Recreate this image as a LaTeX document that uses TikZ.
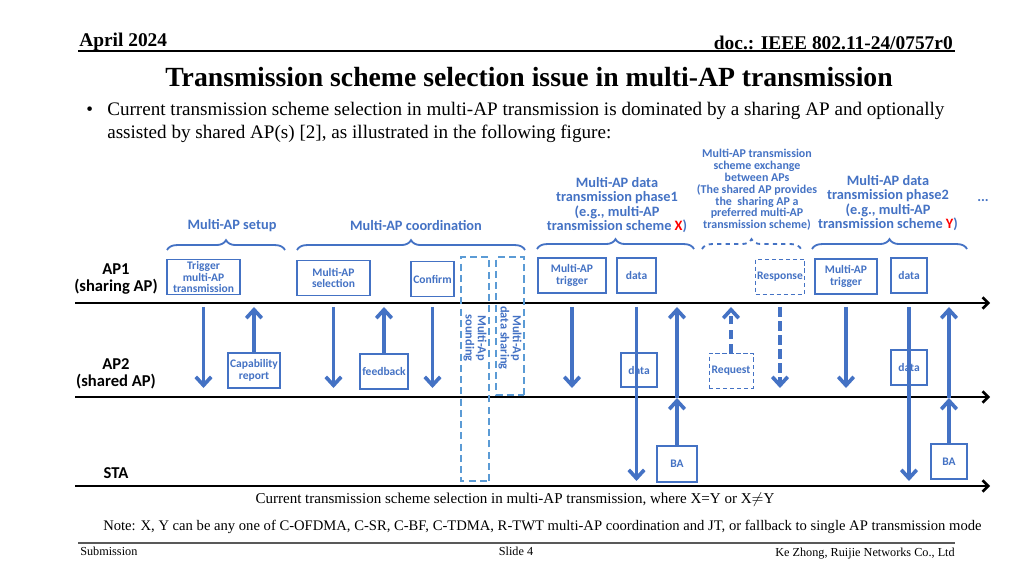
\documentclass[tikz,border=0pt]{standalone}
\usepackage{fontspec}
\setmainfont{Liberation Serif}
\newfontfamily\diagfont{Carlito}
\usepackage{tikz}
\usetikzlibrary{arrows.meta,decorations.pathreplacing,positioning}
\definecolor{apblue}{RGB}{68,114,196}
\definecolor{dashblue}{RGB}{91,155,213}

\begin{document}
\begin{tikzpicture}[x=0.025cm,y=-0.025cm]
		\tikzstyle{every node}=[inner sep=0pt]
		
		\tikzstyle{msgbox}=[draw=apblue,line width=0.9pt,fill=white,text=apblue,
		font=\diagfont\bfseries\fontsize{8.2}{8.4}\selectfont,align=center,
		minimum height=0.875cm]
		\tikzstyle{optbox}=[msgbox,line width=0.6pt,densely dashed]
		\tikzstyle{phasebox}=[draw=dashblue,line width=0.8pt,dash pattern=on 5pt off 3pt,
		minimum height=0.7cm,rotate=-90]
		\tikzstyle{phasetext}=[text=apblue,font=\diagfont\bfseries\fontsize{8.8}{8.6}\selectfont,
		align=center,rotate=-90]
		\tikzstyle{msg}=[apblue,line width=2.6pt,-{Straight Barb[length=6pt,width=11pt]}]
		\tikzstyle{timeline}=[line width=1.8pt,-{Straight Barb[length=4pt,width=8pt]}]
		\tikzstyle{grp}=[apblue,line width=1.3pt,decorate,decoration={brace,amplitude=7pt}]
		\tikzstyle{grplabel}=[text=apblue,font=\diagfont\bfseries\fontsize{10.2}{10.4}\selectfont,align=center]
		\tikzstyle{smalllabel}=[text=apblue,font=\diagfont\bfseries\fontsize{8.5}{8.4}\selectfont,align=center]
		\tikzstyle{rowlabel}=[font=\diagfont\bfseries\fontsize{11.8}{12}\selectfont,align=center]
		
		\useasboundingbox (0,0) rectangle (1024,576);
		
		%% Slide header and text
		\node[anchor=base west,font=\bfseries\fontsize{13.8}{16}\selectfont] (date) at (79,47) {April 2024};
		\node[anchor=base east,font=\bfseries\fontsize{13.8}{16}\selectfont] (doc) at (953,50) {doc.: IEEE 802.11-24/0757r0};
		\coordinate (hl) at (78,51);
		\coordinate (hr) at (955,51);
		\draw[line width=0.8pt] (hl) -- (hr);
		\node[font=\bfseries\fontsize{19.7}{22}\selectfont] (title) at (529,77) {Transmission scheme selection issue in multi-AP transmission};
		\node[anchor=base west,font=\fontsize{13.6}{15}\selectfont] (bul) at (86,116) {\textbullet};
		\node[anchor=base west,font=\fontsize{13.6}{15}\selectfont] (intro1) at (107,116) {Current transmission scheme selection in multi-AP transmission is dominated by a sharing AP and optionally};
		\node[anchor=base west,font=\fontsize{13.6}{15}\selectfont] (intro2) at (107,139) {assisted by shared AP(s) [2], as illustrated in the following figure:};
		
		%% Time lines
		\coordinate (ap1s) at (75,303);
		\coordinate (ap1e) at (990,303);
		\coordinate (ap2s) at (75,397);
		\coordinate (ap2e) at (990,397);
		\coordinate (stas) at (75,486);
		\coordinate (stae) at (990,486);
		\draw[timeline] (ap1s) -- (ap1e);
		\draw[timeline] (ap2s) -- (ap2e);
		\draw[timeline] (stas) -- (stae);
		
		\node[rowlabel] (ap1) at (116,279) {AP1\\(sharing AP)};
		\node[rowlabel] (ap2) at (116,374) {AP2\\(shared AP)};
		\node[rowlabel] (sta) at (116,473) {STA};
		
		%% Phases
		\node[grplabel] (setup) at (232,226) {Multi-AP setup};
		\draw[grp] (167,250) -- (285,250);
		\node[grplabel] (coord) at (416,226) {Multi-AP coordination};
		\draw[grp] (297,250) -- (525,250);
		\node[grplabel] (ph1) at (617,205) {Multi-AP data\\transmission phase1\\(e.g., multi-AP\\transmission scheme \textcolor{red}{X})};
		\draw[grp] (537,249) -- (694,249);
		\node[smalllabel] (xchg) at (757,190) {Multi-AP transmission\\scheme exchange\\between APs\\(The shared AP provides\\the\ \ sharing AP a\\preferred multi-AP\\transmission scheme)};
		\draw[grp,dashed] (702,249) -- (801,249);
		\node[grplabel] (ph2) at (888,203) {Multi-AP data\\transmission phase2\\(e.g., multi-AP\\transmission scheme \textcolor{red}{Y})};
		\draw[grp] (812,249) -- (967,249);
		\node[grplabel] (more) at (983,201) {...};
		
		%% Frames
		\node[msgbox,minimum width=1.825cm] (trig) at (203.5,277) {Trigger\\multi-AP\\transmission};
		\node[msgbox,minimum width=1.3cm] (capab) at (254,370.5) {Capability\\report};
		\node[msgbox,minimum width=1.825cm] (sel) at (333.5,278) {Multi-AP\\selection};
		\node[msgbox,minimum width=1.2cm] (feed) at (384,371.5) {feedback};
		\node[msgbox,minimum width=1.075cm] (conf) at (432.5,279) {Confirm};
		\node[phasebox,minimum width=5.6cm] (sound) at (475,369) {};
		\node[phasetext] (soundtxt) at (475,338) {Multi-Ap\\sounding};
		\node[phasebox,minimum width=3.45cm] (share) at (510,326) {};
		\node[phasetext] (sharetxt) at (510,338) {Multi-Ap\\data sharing};
		\node[msgbox,minimum width=1.7cm] (mtrig1) at (572,275.5) {Multi-AP\\trigger};
		\node[msgbox,minimum width=0.975cm] (data1) at (636.5,275.5) {data};
		\node[msgbox,minimum width=0.9cm,minimum height=0.85cm] (ddata1) at (639,370) {data};
		\node[msgbox,minimum width=1.0cm,minimum height=0.9cm] (ba1) at (677,464) {BA};
		\node[optbox,minimum width=1.1cm] (req) at (731,370.5) {Request};
		\node[optbox,minimum width=1.225cm] (resp) at (780,276.5) {Response};
		\node[msgbox,minimum width=1.55cm] (mtrig2) at (846,276.5) {Multi-AP\\trigger};
		\node[msgbox,minimum width=0.9cm] (data2) at (909,275.5) {data};
		\node[msgbox,minimum width=0.9cm] (ddata2) at (909,367.5) {data};
		\node[msgbox,minimum width=0.9cm] (ba2) at (949,461.5) {BA};
		
		%% Transmissions
		\coordinate (top) at (0,307);
		\coordinate (bot) at (0,388);
		\coordinate (mid) at (0,398);
		\coordinate (low) at (0,481);
		\draw[msg] (trig.south |- top) -- (trig.south |- bot);
		\draw[msg] (capab.north) -- (capab.north |- top);
		\draw[msg] (sel.south |- top) -- (sel.south |- bot);
		\draw[msg] (feed.north) -- (feed.north |- top);
		\draw[msg] (conf.south |- top) -- (conf.south |- bot);
		\draw[msg] (mtrig1.south |- top) -- (mtrig1.south |- bot);
		\draw[msg] (data1.south |- top) -- (data1.south |- low);
		\draw[msg] (ba1.north) -- (ba1.north |- mid);
		\draw[msg] (ba1.north |- mid) -- (ba1.north |- top);
		\draw[msg,dash pattern=on 6pt off 4pt] (req.north) -- (req.north |- top);
		\draw[msg,dash pattern=on 7pt off 3pt] (resp.south |- top) -- (resp.south |- bot);
		\draw[msg] (mtrig2.south |- top) -- (mtrig2.south |- bot);
		\draw[msg] (data2.south |- top) -- (data2.south |- low);
		\draw[msg] (ba2.north) -- (ba2.north |- mid);
		\draw[msg] (ba2.north |- mid) -- (ba2.north |- top);
		
		%% Caption and footer
		\node[font=\fontsize{10.7}{12}\selectfont] (figcap) at (515,500) {Current transmission scheme selection in multi-AP transmission, where X=Y or X\ensuremath{\neq}Y};
		\node[anchor=west,font=\fontsize{10.4}{13}\selectfont] (note) at (103,527) {Note: X, Y can be any one of C-OFDMA, C-SR, C-BF, C-TDMA, R-TWT multi-AP coordination and JT, or fallback to single AP transmission mode};
		\coordinate (fl) at (78,543);
		\coordinate (fr) at (955,543);
		\draw[gray!70!black,line width=1pt] (fl) -- (fr);
		\node[anchor=west,font=\fontsize{8.7}{10}\selectfont] (sub) at (80,551) {Submission};
		\node[font=\fontsize{8.7}{10}\selectfont] (slide) at (516,551) {Slide 4};
		\node[anchor=east,font=\fontsize{8.7}{10}\selectfont] (auth) at (955,554) {Ke Zhong, Ruijie Networks Co., Ltd};
		
\end{tikzpicture}
\end{document}
